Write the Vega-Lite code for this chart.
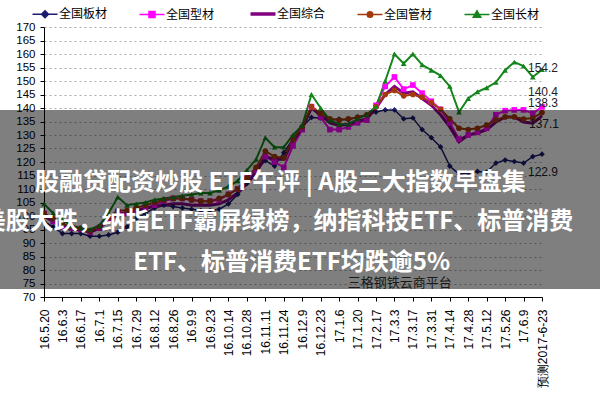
{
  "$schema": "https://vega.github.io/schema/vega-lite/v6.json",
  "width": 498,
  "height": 270,
  "autosize": {"type": "none"},
  "padding": {"left": 44, "top": 27, "right": 58, "bottom": 103},
  "background": "white",
  "config": {"view": {"stroke": null}, "font": "Liberation Sans"},
  "datasets": {
    "chart": [
      {"d":"16.5.20","全国板材":98,"全国型材":101,"全国综合":100,"全国管材":101,"全国长材":104.5},
      {"d":"16.5.27","全国板材":96,"全国型材":98,"全国综合":98,"全国管材":99,"全国长材":101},
      {"d":"16.6.3","全国板材":93.5,"全国型材":96,"全国综合":96,"全国管材":97,"全国长材":98.5},
      {"d":"16.6.10","全国板材":93.5,"全国型材":95.5,"全国综合":95,"全国管材":96,"全国长材":96.5},
      {"d":"16.6.17","全国板材":93.5,"全国型材":95,"全国综合":95,"全国管材":95.5,"全国长材":95.5},
      {"d":"16.6.24","全国板材":92.5,"全国型材":94,"全国综合":94,"全国管材":94.5,"全国长材":95},
      {"d":"16.7.1","全国板材":92.5,"全国型材":95.5,"全国综合":95.5,"全国管材":96,"全国长材":96.5},
      {"d":"16.7.8","全国板材":93,"全国型材":99,"全国综合":98.5,"全国管材":99.5,"全国长材":101},
      {"d":"16.7.15","全国板材":94,"全国型材":101.5,"全国综合":100.5,"全国管材":102,"全国长材":107},
      {"d":"16.7.22","全国板材":96,"全国型材":101,"全国综合":101,"全国管材":102,"全国长材":104},
      {"d":"16.7.29","全国板材":99,"全国型材":102,"全国综合":102,"全国管材":103,"全国长材":104.5},
      {"d":"16.8.5","全国板材":101,"全国型材":103,"全国综合":103,"全国管材":104,"全国长材":105},
      {"d":"16.8.12","全国板材":103,"全国型材":104,"全国综合":103.5,"全国管材":105,"全国长材":106},
      {"d":"16.8.19","全国板材":104,"全国型材":105.5,"全国综合":104,"全国管材":106,"全国长材":106.5},
      {"d":"16.8.26","全国板材":103.5,"全国型材":106.5,"全国综合":104.5,"全国管材":106.5,"全国长材":107},
      {"d":"16.9.2","全国板材":103,"全国型材":106.5,"全国综合":104.5,"全国管材":106.5,"全国长材":107.5},
      {"d":"16.9.9","全国板材":102.5,"全国型材":106,"全国综合":104,"全国管材":106,"全国长材":108},
      {"d":"16.9.14","全国板材":102,"全国型材":105.5,"全国综合":104,"全国管材":105.5,"全国长材":108.5},
      {"d":"16.9.23","全国板材":102,"全国型材":105.5,"全国综合":104,"全国管材":105.5,"全国长材":108.5},
      {"d":"16.9.30","全国板材":102.5,"全国型材":106,"全国综合":104.5,"全国管材":106.5,"全国长材":109.5},
      {"d":"16.10.14","全国板材":104.5,"全国型材":108,"全国综合":106,"全国管材":108,"全国长材":111},
      {"d":"16.10.21","全国板材":108,"全国型材":110,"全国综合":108.5,"全国管材":110,"全国长材":113},
      {"d":"16.10.28","全国板材":112,"全国型材":114,"全国综合":112,"全国管材":114,"全国长材":117},
      {"d":"16.11.4","全国板材":117,"全国型材":117,"全国综合":116,"全国管材":118,"全国长材":121},
      {"d":"16.11.11","全国板材":120.5,"全国型材":122,"全国综合":122,"全国管材":124,"全国长材":129},
      {"d":"16.11.18","全国板材":118.5,"全国型材":120,"全国综合":121,"全国管材":122,"全国长材":125.5},
      {"d":"16.11.24","全国板材":123.5,"全国型材":118,"全国综合":121,"全国管材":121.5,"全国长材":125.5},
      {"d":"16.12.2","全国板材":128.5,"全国型材":126,"全国综合":128,"全国管材":128.5,"全国长材":130},
      {"d":"16.12.9","全国板材":133,"全国型材":132,"全国综合":132.5,"全国管材":133,"全国长材":133.5},
      {"d":"16.12.16","全国板材":136.5,"全国型材":140.5,"全国综合":140,"全国管材":140.5,"全国长材":145},
      {"d":"16.12.23","全国板材":136.3,"全国型材":136.5,"全国综合":137.5,"全国管材":138,"全国长材":140},
      {"d":"16.12.30","全国板材":135.6,"全国型材":132,"全国综合":134.5,"全国管材":136,"全国长材":135.5},
      {"d":"17.1.6","全国板材":135.9,"全国型材":132,"全国综合":133.5,"全国管材":135.5,"全国长材":134},
      {"d":"17.1.13","全国板材":135.6,"全国型材":133,"全国综合":134,"全国管材":136,"全国长材":134},
      {"d":"17.1.20","全国板材":136.7,"全国型材":134.5,"全国综合":135,"全国管材":136.5,"全国长材":136},
      {"d":"17.2.10","全国板材":137.4,"全国型材":135.5,"全国综合":136,"全国管材":137.5,"全国长材":137.5},
      {"d":"17.2.17","全国板材":138.5,"全国型材":141,"全国综合":140,"全国管材":140.5,"全国长材":140.5},
      {"d":"17.2.24","全国板材":139.3,"全国型材":148,"全国综合":145,"全国管材":145,"全国长材":150},
      {"d":"17.3.3","全国板材":139.3,"全国型材":151.5,"全国综合":148,"全国管材":146.5,"全国长材":160},
      {"d":"17.3.10","全国板材":136,"全国型材":147,"全国综合":145.5,"全国管材":144.5,"全国长材":156.5},
      {"d":"17.3.17","全国板材":136.3,"全国型材":148.5,"全国综合":146,"全国管材":145,"全国长材":160},
      {"d":"17.3.24","全国板材":132,"全国型材":145.5,"全国综合":143.5,"全国管材":144,"全国长材":156},
      {"d":"17.3.31","全国板材":129,"全国型材":142.5,"全国综合":141,"全国管材":142,"全国长材":154},
      {"d":"17.4.7","全国板材":125.6,"全国型材":139.5,"全国综合":137.5,"全国管材":139.5,"全国长材":152},
      {"d":"17.4.14","全国板材":118.5,"全国型材":134.5,"全国综合":133,"全国管材":136,"全国长材":148},
      {"d":"17.4.21","全国板材":115.5,"全国型材":128.5,"全国综合":127.5,"全国管材":132.5,"全国长材":138.5},
      {"d":"17.4.28","全国板材":116,"全国型材":130,"全国综合":130,"全国管材":132,"全国长材":143.5},
      {"d":"17.5.5","全国板材":116.5,"全国型材":131,"全国综合":130.7,"全国管材":132.5,"全国长材":146},
      {"d":"17.5.12","全国板材":116.3,"全国型材":132.5,"全国综合":132,"全国管材":133.7,"全国长材":147.5},
      {"d":"17.5.19","全国板材":119.6,"全国型材":137.5,"全国综合":134.8,"全国管材":135.6,"全国长材":149.5},
      {"d":"17.5.26","全国板材":120.7,"全国型材":139,"全国综合":136.7,"全国管材":136.7,"全国长材":154},
      {"d":"17.6.2","全国板材":120.2,"全国型材":139.3,"全国综合":136.7,"全国管材":136.7,"全国长材":157},
      {"d":"17.6.9","全国板材":119.6,"全国型材":139.3,"全国综合":134.8,"全国管材":135.9,"全国长材":155.5},
      {"d":"17.6.16","全国板材":122,"全国型材":138,"全国综合":134.4,"全国管材":136.3,"全国长材":151.5},
      {"d":"预测2017-6-23","全国板材":122.9,"全国型材":140.4,"全国综合":137.1,"全国管材":138.3,"全国长材":154.2}
    ]
  },
  "layer": [
    {
      "data": {"name": "chart"},
      "transform": [{"fold": ["全国板材","全国型材","全国综合","全国管材","全国长材"], "as": ["s","v"]}],
      "encoding": {
        "x": {
          "field": "d", "type": "ordinal", "sort": null,
          "scale": {"type": "point", "padding": 0},
          "axis": {
            "title": null, "grid": false, "labelAngle": -90, "labelFontSize": 12, "labelColor": "#000",
            "labelFont": "Liberation Sans",
            "domainColor": "#000", "tickColor": "#000", "tickSize": 4, "labelPadding": 8,
            "values": ["16.5.20","16.6.3","16.6.17","16.7.1","16.7.15","16.7.29","16.8.12","16.8.26","16.9.9","16.9.23","16.10.14","16.10.28","16.11.11","16.11.24","16.12.9","16.12.23","17.1.6","17.1.20","17.2.17","17.3.3","17.3.17","17.3.31","17.4.14","17.4.28","17.5.12","17.5.26","17.6.9","预测2017-6-23"]
          }
        },
        "y": {
          "field": "v", "type": "quantitative",
          "scale": {"domain": [70,170], "nice": false, "zero": false},
          "axis": {
            "title": null, "values": [70,75,80,85,90,95,100,105,110,115,120,125,130,135,140,145,150,155,160,165,170],
            "labelFontSize": 11.5, "labelColor": "#000", "labelFont": "Liberation Sans",
            "domainColor": "#000", "tickColor": "#000", "tickSize": 4, "labelPadding": 5,
            "grid": true, "gridColor": "#a8a8a8", "gridDash": [2,3], "gridWidth": 1
          }
        },
        "color": {
          "field": "s", "type": "nominal",
          "scale": {"domain": ["全国板材","全国型材","全国综合","全国管材","全国长材"], "range": ["#1B1B6F","#FF00FF","#800080","#A33A0B","#13851B"]},
          "legend": {
            "orient": "none", "legendX": -5, "legendY": -19, "direction": "horizontal", "title": null,
            "padding": 0, "symbolSize": 625, "labelOffset": 8, "columnPadding": 28,
            "labelFont": "Noto Sans CJK SC", "labelFontSize": 12, "labelColor": "#000",
            "symbolStrokeWidth": 1.5,
            "encode": {
              "symbols": {
                "update": {
                  "shape": {"signal": "datum.value === '全国板材' ? 'M-1,0H1M0,-0.28L0.28,0L0,0.28L-0.28,0Z' : datum.value === '全国型材' ? 'M-1,0H1M-0.24,-0.24H0.24V0.24H-0.24Z' : datum.value === '全国管材' ? 'M-1,0H1M-0.22,0A0.22,0.22,0,1,0,0.22,0A0.22,0.22,0,1,0,-0.22,0Z' : datum.value === '全国长材' ? 'M-1,0H1M0,-0.3L0.3,0.22L-0.3,0.22Z' : 'M-1,0H1'"},
                  "fill": {"signal": "scale('color', datum.value)"},
                  "stroke": {"signal": "scale('color', datum.value)"},
                  "strokeWidth": {"signal": "datum.value === '全国综合' ? 3.5 : 1.5"}
                }
              }
            }
          }
        }
      },
      "layer": [
        {
          "mark": {"type": "line"},
          "encoding": {
            "strokeWidth": {"condition": [{"test": "datum.s === '全国综合'", "value": 3}, {"test": "datum.s === '全国板材'", "value": 1.5}], "value": 2}
          }
        },
        {
          "transform": [{"filter": "datum.s !== '全国综合'"}],
          "mark": {"type": "point", "filled": true, "opacity": 1},
          "encoding": {
            "shape": {"field": "s", "type": "nominal", "scale": {"domain": ["全国板材","全国型材","全国管材","全国长材"], "range": ["diamond","square","circle","triangle-up"]}, "legend": null},
            "size": {"value": 32}
          }
        },
        {
          "transform": [{"filter": "datum.d === '预测2017-6-23' && datum.s === '全国长材'"}],
          "mark": {"type": "text", "align": "left", "baseline": "middle", "dx": -14, "dy": -2, "fontSize": 12, "font": "Liberation Sans"},
          "encoding": {"text": {"field": "v", "type": "quantitative", "format": ".1f"}, "color": {"value": "#222"}}
        },
        {
          "transform": [{"filter": "datum.d === '预测2017-6-23' && datum.s === '全国型材'"}],
          "mark": {"type": "text", "align": "left", "baseline": "middle", "dx": -14, "dy": -15, "fontSize": 12, "font": "Liberation Sans"},
          "encoding": {"text": {"field": "v", "type": "quantitative", "format": ".1f"}, "color": {"value": "#222"}}
        },
        {
          "transform": [{"filter": "datum.d === '预测2017-6-23' && datum.s === '全国管材'"}],
          "mark": {"type": "text", "align": "left", "baseline": "middle", "dx": -14, "dy": -10, "fontSize": 12, "font": "Liberation Sans"},
          "encoding": {"text": {"field": "v", "type": "quantitative", "format": ".1f"}, "color": {"value": "#222"}}
        },
        {
          "transform": [{"filter": "datum.d === '预测2017-6-23' && datum.s === '全国综合'"}],
          "mark": {"type": "text", "align": "left", "baseline": "middle", "dx": -13, "dy": 8, "fontSize": 12, "font": "Liberation Sans"},
          "encoding": {"text": {"field": "v", "type": "quantitative", "format": ".1f"}, "color": {"value": "#222"}}
        },
        {
          "transform": [{"filter": "datum.d === '预测2017-6-23' && datum.s === '全国板材'"}],
          "mark": {"type": "text", "align": "left", "baseline": "middle", "dx": -14, "dy": 18, "fontSize": 12, "font": "Liberation Sans"},
          "encoding": {"text": {"field": "v", "type": "quantitative", "format": ".1f"}, "color": {"value": "#222"}}
        }
      ]
    },
    {
      "layer": [
        {
          "data": {"values": [{"t": "三格钢铁云商平台", "x": 0.61, "y": 75.2}]},
          "mark": {"type": "text", "align": "left", "baseline": "middle", "fontSize": 13, "font": "Noto Sans CJK SC", "color": "#333"},
          "encoding": {
            "x": {"field": "x", "type": "quantitative", "scale": {"domain": [0,1], "nice": false, "zero": false}, "axis": null},
            "y": {"field": "y", "type": "quantitative", "scale": {"domain": [70,170], "nice": false, "zero": false}, "axis": null},
            "text": {"field": "t"}
          }
        },
        {
          "data": {"values": [{"x": -0.0884, "x2": 1.1165, "y": 139.3, "y2": 72.96}]},
          "mark": {"type": "rect", "color": "#000", "opacity": 0.5},
          "encoding": {
            "x": {"field": "x", "type": "quantitative", "scale": {"domain": [0,1], "nice": false, "zero": false}, "axis": null},
            "x2": {"field": "x2"},
            "y": {"field": "y", "type": "quantitative", "scale": {"domain": [70,170], "nice": false, "zero": false}, "axis": null},
            "y2": {"field": "y2"}
          }
        },
        {
          "data": {"values": [
            {"t": "股融贷配资炒股 ETF午评 | A股三大指数早盘集", "x": -0.018, "y": 112.2},
            {"t": "美股大跌，纳指ETF霸屏绿榜，纳指科技ETF、标普消费", "x": -0.125, "y": 97.8},
            {"t": "ETF、标普消费ETF均跌逾5%", "x": 0.179, "y": 82.6}
          ]},
          "mark": {"type": "text", "align": "left", "baseline": "middle", "fontSize": 24, "fontWeight": "bold", "font": "Noto Sans CJK SC", "color": "#ffffff"},
          "encoding": {
            "x": {"field": "x", "type": "quantitative", "scale": {"domain": [0,1], "nice": false, "zero": false}, "axis": null},
            "y": {"field": "y", "type": "quantitative", "scale": {"domain": [70,170], "nice": false, "zero": false}, "axis": null},
            "text": {"field": "t"}
          }
        }
      ]
    }
  ],
  "resolve": {"scale": {"x": "independent"}, "axis": {"y": "independent"}}
}
